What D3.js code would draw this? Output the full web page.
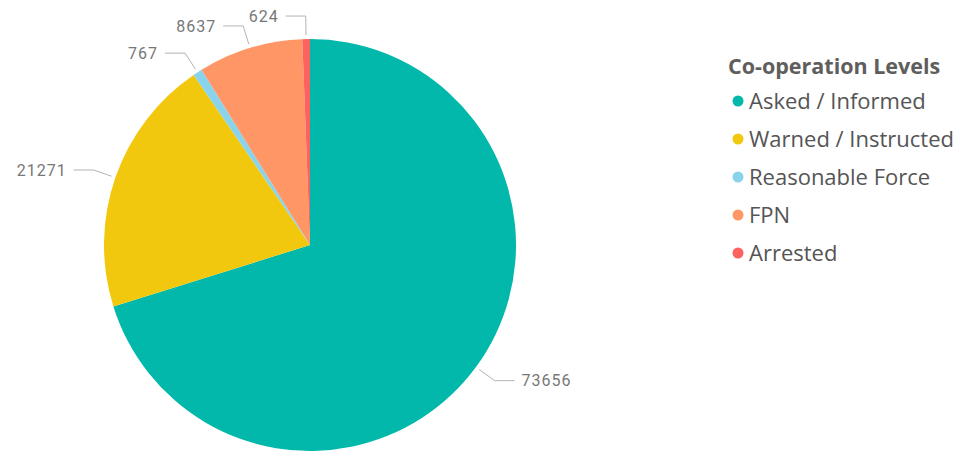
<!DOCTYPE html>
<html lang="en">
<head>
    <meta charset="UTF-8">
    <title>Co-operation Levels</title>
    <script src="https://d3js.org/d3.v7.min.js"></script>
    <style>
        body { margin: 0; background: #fff; }
    </style>
</head>
<body>
    <div id="chart"></div>
    <script>
        var categories = ["Asked / Informed", "Warned / Instructed", "Reasonable Force", "FPN", "Arrested"]
        var values = [73656, 21271, 767, 8637, 624]
        var colors = ["#01B8AA", "#F2C80F", "#8AD4EB", "#FE9666", "#FD625E"]

        var width = 961, height = 452
        var cx = 310, cy = 245, radius = 206

        var svg = d3.select("#chart")
            .append("svg")
            .attr("width", width)
            .attr("height", height)

        var data = categories.map(function (c, i) { return { name: c, value: values[i] } })

        var color = d3.scaleOrdinal().domain(categories).range(colors)

        var pie = d3.pie().sort(null).value(function (d) { return d.value })
        var arcs = pie(data)

        var arc = d3.arc().innerRadius(0).outerRadius(radius)
        var startArc = d3.arc().innerRadius(radius + 4).outerRadius(radius + 4)
        var elbowArc = d3.arc().innerRadius(radius + 23).outerRadius(radius + 23)

        var g = svg.append("g").attr("transform", "translate(" + cx + "," + cy + ")")

        g.selectAll("path.slice")
            .data(arcs)
            .enter()
            .append("path")
            .attr("class", "slice")
            .attr("d", arc)
            .attr("fill", function (d) { return color(d.data.name) })

        // leader lines
        function side(d) { return (d.startAngle + d.endAngle) / 2 < Math.PI ? 1 : -1 }

        g.selectAll("polyline")
            .data(arcs)
            .enter()
            .append("polyline")
            .attr("points", function (d) {
                var a = startArc.centroid(d), b = elbowArc.centroid(d)
                var c = [b[0] + side(d) * 20, b[1]]
                return [a, b, c].map(function (p) { return p.join(",") }).join(" ")
            })
            .attr("fill", "none")
            .attr("stroke", "#b3b3b3")
            .attr("stroke-width", 1)

        g.selectAll("text.val")
            .data(arcs)
            .enter()
            .append("text")
            .attr("class", "val")
            .attr("x", function (d) { return elbowArc.centroid(d)[0] + side(d) * 27 })
            .attr("y", function (d) { return elbowArc.centroid(d)[1] })
            .attr("dy", "0.35em")
            .attr("text-anchor", function (d) { return side(d) > 0 ? "start" : "end" })
            .style("font-family", "Roboto, 'DejaVu Sans', sans-serif")
            .style("font-size", "16px")
            .style("letter-spacing", "1px")
            .style("fill", "#777")
            .text(function (d) { return d.data.value })

        // legend
        var legend = svg.append("g").attr("transform", "translate(728,0)")

        legend.append("text")
            .attr("x", 0)
            .attr("y", 74)
            .style("font-family", "'Open Sans', sans-serif")
            .style("font-weight", "bold")
            .style("font-size", "21.5px")
            .style("fill", "#605E5C")
            .text("Co-operation Levels")

        var items = legend.selectAll("g.item")
            .data(categories)
            .enter()
            .append("g")
            .attr("class", "item")
            .attr("transform", function (d, i) { return "translate(0," + (101 + i * 38) + ")" })

        items.append("circle")
            .attr("cx", 10)
            .attr("cy", 0)
            .attr("r", 5.5)
            .attr("fill", function (d) { return color(d) })

        items.append("text")
            .attr("x", 21)
            .attr("y", 0)
            .attr("dy", "0.35em")
            .style("font-family", "'Open Sans', sans-serif")
            .style("font-size", "22px")
            .style("fill", "#555")
            .text(function (d) { return d })
    </script>
</body>
</html>
